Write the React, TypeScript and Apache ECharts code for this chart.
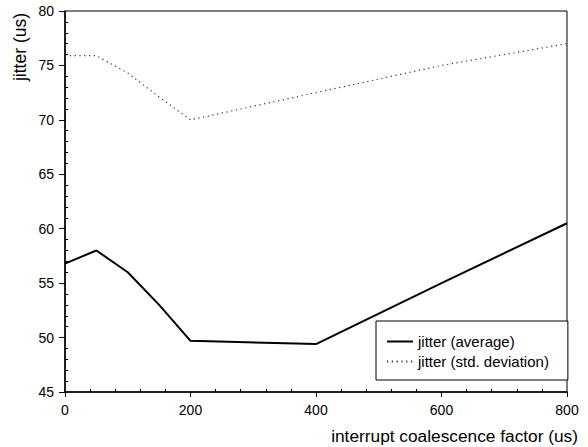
import React, { useEffect, useRef } from "react";
import * as echarts from "echarts";

const xValues = [0, 50, 100, 150, 200, 400, 600, 800];
const jitterAverage = [56.8, 58.0, 56.0, 53.0, 49.7, 49.4, 55.0, 60.5];
const jitterStdDev = [75.9, 75.9, 74.3, 72.1, 70.0, 72.5, 75.0, 77.0];
const seriesNames = ["jitter (average)", "jitter (std. deviation)"];
const xAxisTitle = "interrupt coalescence factor (us)";
const yAxisTitle = "jitter (us)";

const FONT = "'Liberation Sans', Arial, Helvetica, sans-serif";

export default function App() {
  const ref = useRef<HTMLDivElement>(null);
  useEffect(() => {
    if (!ref.current) return;
    const chart = echarts.init(ref.current, null, { renderer: "svg" });
    const pairs = (ys: number[]) => xValues.map((x, i) => [x, ys[i]]);
    chart.setOption({
      animation: false,
      backgroundColor: "#fff",
      textStyle: { fontFamily: FONT },
      grid: {
        left: 65,
        right: 21,
        top: 11,
        bottom: 55,
        show: true,
        borderColor: "#000",
        borderWidth: 1,
        backgroundColor: "transparent",
      },
      xAxis: {
        type: "value",
        min: 0,
        max: 800,
        interval: 200,
        axisLine: { show: true, onZero: false, lineStyle: { color: "#000", width: 1.5 } },
        axisTick: { show: true, inside: false, length: 5, lineStyle: { color: "#000", width: 1 } },
        minorTick: { show: true, splitNumber: 5, length: -3, lineStyle: { color: "#000", width: 1 } },
        splitLine: { show: false },
        minorSplitLine: { show: false },
        axisLabel: { color: "#000", fontSize: 14, fontFamily: FONT, margin: 11 },
      },
      yAxis: {
        type: "value",
        min: 45,
        max: 80,
        interval: 5,
        axisLine: { show: true, onZero: false, lineStyle: { color: "#000", width: 1.5 } },
        axisTick: { show: true, inside: false, length: 6, lineStyle: { color: "#000", width: 1 } },
        minorTick: { show: true, splitNumber: 5, length: -3, lineStyle: { color: "#000", width: 1 } },
        splitLine: { show: false },
        minorSplitLine: { show: false },
        axisLabel: { color: "#000", fontSize: 14, fontFamily: FONT, margin: 11 },
      },
      legend: {
        orient: "vertical",
        left: 376,
        top: 321,
        padding: [13, 19, 11, 10],
        itemWidth: 26,
        itemHeight: 14,
        itemGap: 5,
        borderColor: "#000",
        borderWidth: 1,
        borderRadius: 0,
        backgroundColor: "#fff",
        itemStyle: { opacity: 0 },
        textStyle: { color: "#000", fontSize: 15, fontFamily: FONT },
        data: seriesNames,
      },
      graphic: [
        {
          type: "text",
          right: 10,
          top: 427,
          style: {
            text: xAxisTitle,
            fill: "#000",
            fontSize: 17.3,
            fontFamily: FONT,
          },
        },
        {
          type: "text",
          x: 20,
          y: 47,
          rotation: Math.PI / 2,
          style: {
            text: yAxisTitle,
            fill: "#000",
            fontSize: 17.5,
            fontFamily: FONT,
            align: "center",
            verticalAlign: "middle",
          },
        },
      ],
      series: [
        {
          name: seriesNames[0],
          type: "line",
          data: pairs(jitterAverage),
          symbol: "none",
          showSymbol: false,
          lineStyle: { color: "#000", width: 2 },
          itemStyle: { color: "#000" },
        },
        {
          name: seriesNames[1],
          type: "line",
          data: pairs(jitterStdDev),
          symbol: "none",
          showSymbol: false,
          lineStyle: { color: "#333", width: 1.2, type: [1.2, 3.6] },
          itemStyle: { color: "#333" },
        },
      ],
    });
    return () => chart.dispose();
  }, []);
  return (
    <div
      ref={ref}
      style={{ position: "fixed", left: 0, top: 0, width: 588, height: 447, background: "#fff" }}
    />
  );
}
